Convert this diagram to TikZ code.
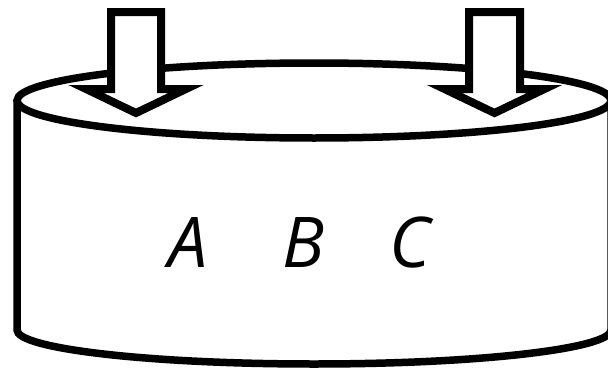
\documentclass[tikz,border=0pt]{standalone}
\usepackage{fontspec}
\setmainfont{Open Sans}
\begin{document}
\begin{tikzpicture}[x=1pt,y=-1pt,
  outline/.style={line width=7.5pt, draw=black},
  downarrow/.style={line width=8pt, draw=black, fill=white, miter limit=10},
  letter/.style={anchor=base, inner sep=0pt, font=\fontsize{70}{70}\selectfont\itshape}]
\useasboundingbox (0,0) rectangle (608,372);
\clip (0,0) rectangle (608,372);
\fill[white] (0,0) rectangle (608,372);
% body
\draw[outline] (17,100.5) -- (17,330) arc[start angle=180, end angle=360, x radius=297pt, y radius=34pt] -- (611,100.5);
% top
\draw[outline, fill=white] (314,100.5) ellipse [x radius=297pt, y radius=37.5pt];
% arrows
\draw[downarrow] (111,12) -- (161,12) -- (161,89) -- (186,89) -- (136,113) -- (86,89) -- (111,89) -- cycle;
\draw[downarrow] (469,12) -- (520,12) -- (520,89) -- (544.5,89) -- (494.5,113) -- (444.5,89) -- (469,89) -- cycle;
% labels
\node[letter] (a) at (188.5,267) {A};
\node[letter] (b) at (303.5,267) {B};
\node[letter] (c) at (410,267) {C};
\end{tikzpicture}
\end{document}
